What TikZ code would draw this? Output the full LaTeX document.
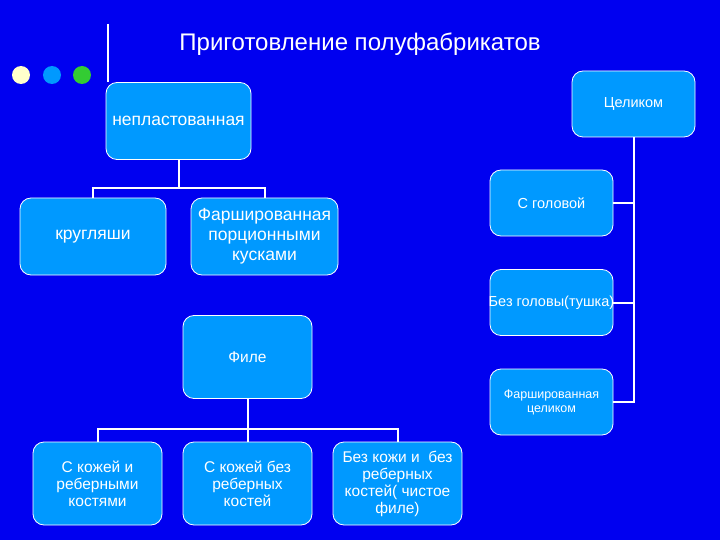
\documentclass[tikz,border=0pt]{standalone}
\usepackage{fontspec}
\setmainfont{Liberation Sans}
\usepackage{tikz}
\definecolor{Back}{RGB}{0,0,240}
\definecolor{Sky}{RGB}{0,153,255}
\definecolor{Cream}{RGB}{255,255,204}
\definecolor{Leaf}{RGB}{51,204,51}
\tikzstyle{Box}=[draw=white,fill=Sky,rounded corners=11pt,text=white,align=center,inner sep=1pt,line width=0.8pt]
\tikzstyle{Wide}=[minimum width=146pt,minimum height=77pt,font=\fontsize{17.5}{20}\selectfont]
\tikzstyle{Mid}=[minimum width=129pt,minimum height=83pt,font=\fontsize{15.5}{17}\selectfont]
\tikzstyle{Small}=[minimum width=123pt,minimum height=66pt,font=\fontsize{14.5}{16}\selectfont]
\tikzstyle{Tiny}=[font=\fontsize{12.5}{14}\selectfont]
\tikzstyle{Tree}=[draw=white,line width=2pt]
\tikzstyle{Dot}=[circle,minimum size=18pt,inner sep=0pt]

\begin{document}
\begin{tikzpicture}[x=1pt,y=-1pt]

    \fill[Back] (0,0) rectangle (720,540);

    \node[Dot,fill=Cream] (dot1) at (21,75) {};
    \node[Dot,fill=Sky] (dot2) at (52,75) {};
    \node[Dot,fill=Leaf] (dot3) at (82,75) {};

    \node[text=white,font=\fontsize{24}{28}\selectfont] (title) at (360,44) {Приготовление полуфабрикатов};

    \node[Box,Wide,minimum width=145pt] (nep) at (178.5,121) {непластованная};
    \node[Box,Wide] (krug) at (93,236.5) {кругляши};
    \node[Box,Wide,minimum width=147pt] (farp) at (264.5,236.5) {Фаршированная\\порционными\\кусками};

    \node[Box,Mid] (file) at (247.5,357) {Филе};
    \node[Box,Mid] (kost) at (97.5,483.5) {С кожей и\\реберными\\костями};
    \node[Box,Mid] (bezr) at (247.5,483.5) {С кожей без\\реберных\\костей};
    \node[Box,Mid] (chist) at (397.5,483.5) {Без кожи и~~без\\реберных\\костей( чистое\\филе)};

    \node[Box,Small] (cel) at (633.5,104) {Целиком};
    \node[Box,Small] (sgol) at (551.5,203) {С головой};
    \node[Box,Small,inner xsep=-4pt] (bezg) at (551.5,302.5) {Без головы(тушка)};
    \node[Box,Small,Tiny] (farc) at (551.5,402) {Фаршированная\\целиком};

    \coordinate (bar) at (108,24);
    \draw[Tree,line width=2.5pt] (bar) -- (bar |- nep.north);

    \draw[Tree] (nep.south) -- ++(0,28) -| (krug.north);
    \draw[Tree] (nep.south) -- ++(0,28) -| (farp.north);

    \draw[Tree] (file.south) -- ++(0,30) -| (kost.north);
    \draw[Tree] (file.south) -- ++(0,30) -| (bezr.north);
    \draw[Tree] (file.south) -- ++(0,30) -| (chist.north);

    \draw[Tree] (cel.south) |- (sgol.east);
    \draw[Tree] (cel.south) |- (bezg.east);
    \draw[Tree] (cel.south) |- (farc.east);

\end{tikzpicture}
\end{document}
